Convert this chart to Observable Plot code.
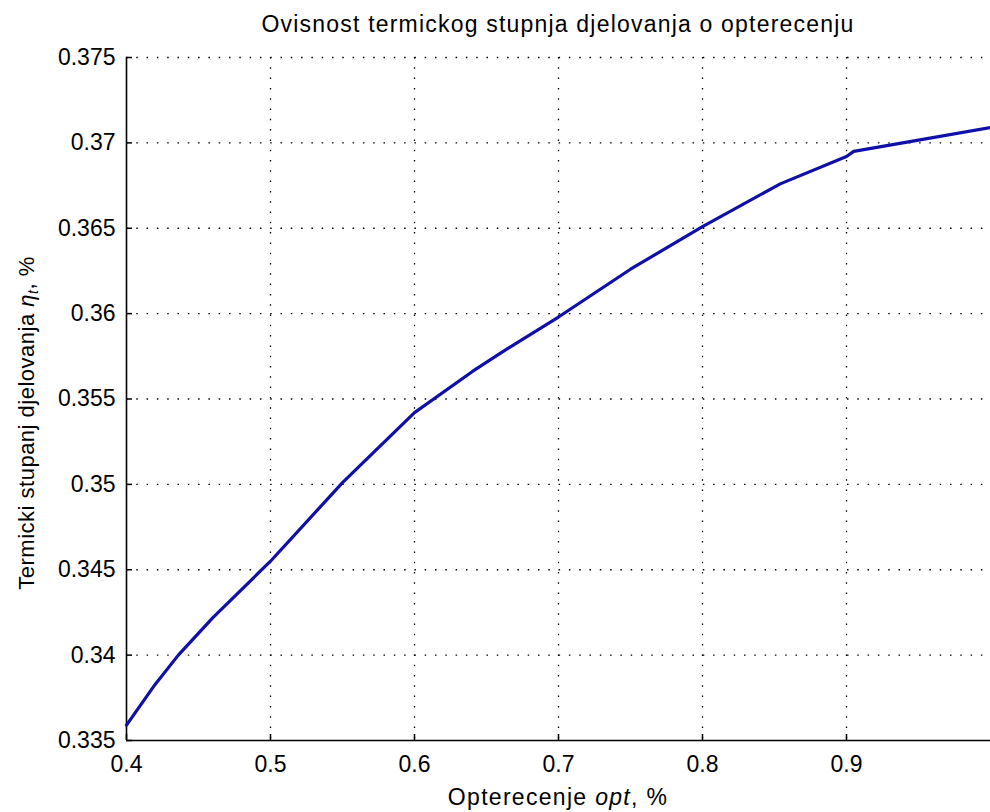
<!DOCTYPE html>
<html>
<head>
<meta charset="utf-8">
<script src="https://cdn.jsdelivr.net/npm/d3@7"></script>
<script src="https://cdn.jsdelivr.net/npm/@observablehq/plot@0.6"></script>
<style>
  html, body { margin: 0; padding: 0; background: #fff; }
  svg { display: block; }
</style>
</head>
<body>
<div id="chart"></div>
<script>
const load = [0.40, 0.42, 0.436, 0.46, 0.50, 0.55, 0.60, 0.64, 0.66, 0.70, 0.75, 0.80, 0.854, 0.90, 0.905, 0.946, 1.00];
const efficiency = [0.3359, 0.3383, 0.3400, 0.3422, 0.3455, 0.3501, 0.3542, 0.3566, 0.3577, 0.3598, 0.3626, 0.3651, 0.3676, 0.3692, 0.3695, 0.3701, 0.3709];
const xTicks = [0.4, 0.5, 0.6, 0.7, 0.8, 0.9];
const yTicks = [0.335, 0.34, 0.345, 0.35, 0.355, 0.36, 0.365, 0.37, 0.375];
const titleText = "Ovisnost termickog stupnja djelovanja o opterecenju";

const data = load.map((x, i) => ({x, y: efficiency[i]}));

const W = 990, H = 812;
const mT = 57, mB = 72, mL = 126, mR = 0;
const frameH = H - mT - mB, frameW = W - mL - mR;
const font = "'Liberation Sans', Arial, sans-serif";

const plot = Plot.plot({
  width: W, height: H,
  marginTop: mT, marginBottom: mB, marginLeft: mL, marginRight: mR,
  style: {fontFamily: font, fontSize: "23px", color: "#000", background: "#fff", overflow: "visible"},
  x: {domain: [0.4, 1.0]},
  y: {domain: [0.335, 0.375]},
  marks: [
    Plot.ruleX(xTicks.slice(1), {stroke: "#000", strokeWidth: 1.3, strokeDasharray: "1.5,8.8"}),
    Plot.ruleY(yTicks.slice(1), {stroke: "#000", strokeWidth: 1.3, strokeDasharray: "1.5,8.8"}),
    Plot.tickX(xTicks, {x: d => d, stroke: "#000", strokeWidth: 1.5, insetTop: frameH - 6}),
    Plot.tickY(yTicks, {y: d => d, stroke: "#000", strokeWidth: 1.5, insetRight: frameW - 6}),
    Plot.ruleX([0.4], {stroke: "#000", strokeWidth: 1.6}),
    Plot.ruleY([0.335], {stroke: "#000", strokeWidth: 1.6}),
    Plot.line(data, {x: "x", y: "y", stroke: "#1010a8", strokeWidth: 3.2, curve: "linear"}),
    Plot.axisX({ticks: xTicks, tickSize: 0, tickPadding: 15, tickFormat: d => String(d), label: null, fontSize: 23, style: {letterSpacing: "0.5px"}}),
    Plot.axisY({ticks: yTicks, tickSize: 0, tickPadding: 11, tickFormat: d => String(d), label: null, fontSize: 23, style: {letterSpacing: "0.5px"}})
  ]
});

document.getElementById("chart").appendChild(plot);

const svg = d3.select(plot);
const cx = mL + frameW / 2;

svg.append("text")
  .attr("x", cx).attr("y", 32)
  .attr("text-anchor", "middle")
  .style("font-family", font).style("font-size", "23px").style("letter-spacing", "1.2px")
  .attr("fill", "#000")
  .text(titleText);

const xl = svg.append("text")
  .attr("x", cx).attr("y", 805)
  .attr("text-anchor", "middle")
  .style("font-family", font).style("font-size", "23px").style("letter-spacing", "1.3px")
  .attr("fill", "#000");
xl.append("tspan").text("Opterecenje ");
xl.append("tspan").style("font-style", "italic").text("opt");
xl.append("tspan").text(", %");

const yl = svg.append("text")
  .attr("transform", `translate(34,423) rotate(-90)`)
  .attr("text-anchor", "middle")
  .style("font-family", font).style("font-size", "22px").style("letter-spacing", "0.5px")
  .attr("fill", "#000");
yl.append("tspan").text("Termicki stupanj djelovanja ");
yl.append("tspan").style("font-style", "italic").text("η");
yl.append("tspan").style("font-style", "italic").style("font-size", "14px").attr("dy", "4").text("t");
yl.append("tspan").attr("dy", "-4").text(", %");
</script>
</body>
</html>
